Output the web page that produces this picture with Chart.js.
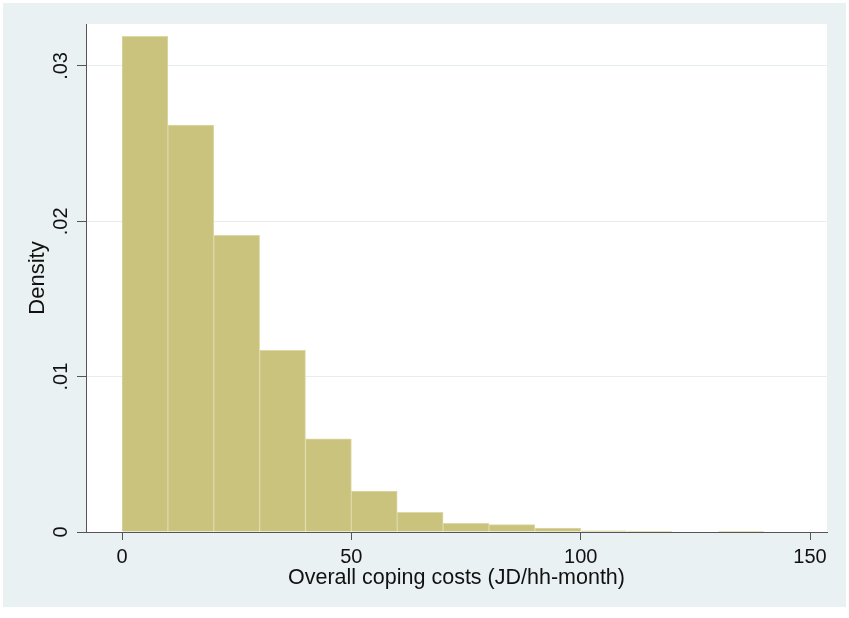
<!DOCTYPE html>
<html lang="en">
<head>
    <meta charset="UTF-8">
    <title>Overall coping costs histogram</title>
    <script src="https://cdn.jsdelivr.net/npm/chart.js"></script>
    <style>
        html, body { margin: 0; padding: 0; background: #ffffff; }
        #panel {
            position: absolute;
            left: 3px;
            top: 3px;
            width: 843px;
            height: 604px;
            background: #eaf1f3;
        }
    </style>
</head>
<body>
    <div id="panel"><canvas id="hist" width="843" height="604"></canvas></div>

    <script>
        // bin midpoints (bin width 10, JD/hh-month)
        const binCenters = [5, 15, 25, 35, 45, 55, 65, 75, 85, 95, 105, 115, 125, 135, 145];
        // density per bin
        const densities = [0.0319, 0.0262, 0.0191, 0.0117, 0.0060, 0.00264, 0.00126, 0.00056, 0.00047, 0.00025, 0.00008, 0.00006, 0, 0.00006, 0];
        const xTicks = [0, 50, 100, 150];
        const yTicks = [0, 0.01, 0.02, 0.03];
        const yTickLabels = ['0', '.01', '.02', '.03'];

        const font = 'Liberation Sans, Arial, sans-serif';
        const axisColor = '#555555';

        // white plot region inside the light panel
        const plotBackground = {
            id: 'plotBackground',
            beforeDraw(chart) {
                const a = chart.chartArea;
                const ctx = chart.ctx;
                ctx.save();
                ctx.fillStyle = '#ffffff';
                ctx.fillRect(a.left, a.top, a.right - a.left, a.bottom - a.top);
                ctx.restore();
            }
        };

        // Stata style: y tick labels turned 90 degrees
        const rotatedYLabels = {
            id: 'rotatedYLabels',
            afterDraw(chart) {
                const ctx = chart.ctx;
                const y = chart.scales.y;
                ctx.save();
                ctx.fillStyle = '#111111';
                ctx.font = '20px ' + font;
                ctx.textAlign = 'center';
                ctx.textBaseline = 'middle';
                yTicks.forEach((v, i) => {
                    ctx.save();
                    ctx.translate(58, y.getPixelForValue(v));
                    ctx.rotate(-Math.PI / 2);
                    ctx.fillText(yTickLabels[i], 0, 0);
                    ctx.restore();
                });
                ctx.restore();
            }
        };

        new Chart(document.getElementById('hist'), {
            type: 'bar',
            data: {
                datasets: [{
                    label: 'Density',
                    data: binCenters.map((x, i) => ({ x: x, y: densities[i] })),
                    backgroundColor: 'rgb(201, 195, 126)',
                    borderColor: 'rgb(222, 216, 166)',
                    borderWidth: 1,
                    barPercentage: 1,
                    categoryPercentage: 1
                }]
            },
            options: {
                responsive: false,
                animation: false,
                layout: { padding: { left: 0, right: 19, top: 21, bottom: 0 } },
                plugins: {
                    legend: { display: false },
                    tooltip: { enabled: false }
                },
                scales: {
                    x: {
                        type: 'linear',
                        min: -7.85,
                        max: 153.7,
                        offset: false,
                        afterFit: s => { s.height = 75; },
                        afterBuildTicks: s => { s.ticks = xTicks.map(v => ({ value: v })); },
                        border: { display: true, color: axisColor, width: 1 },
                        grid: { offset: false, drawOnChartArea: false, drawTicks: true, tickLength: 8, tickColor: axisColor },
                        ticks: {
                            padding: 5,
                            color: '#111111',
                            font: { family: font, size: 20 },
                            callback: v => String(v)
                        },
                        title: {
                            display: true,
                            text: 'Overall coping costs (JD/hh-month)',
                            color: '#111111',
                            font: { family: font, size: 21.5 },
                            padding: { top: 0, bottom: 16 }
                        }
                    },
                    y: {
                        min: 0,
                        max: 0.0327,
                        afterFit: s => { s.width = 83; },
                        afterBuildTicks: s => { s.ticks = yTicks.map(v => ({ value: v })); },
                        border: { display: true, color: axisColor, width: 1 },
                        grid: {
                            offset: false,
                            drawOnChartArea: true,
                            drawTicks: true,
                            tickLength: 9,
                            tickColor: axisColor,
                            color: ctx => ctx.tick && ctx.tick.value === 0 ? 'rgba(0,0,0,0)' : '#e6eef1',
                            lineWidth: 1
                        },
                        ticks: { display: false },
                        title: {
                            display: true,
                            text: 'Density',
                            color: '#111111',
                            font: { family: font, size: 22 },
                            padding: { top: 22, bottom: 0 }
                        }
                    }
                }
            },
            plugins: [plotBackground, rotatedYLabels]
        });
    </script>
</body>
</html>
